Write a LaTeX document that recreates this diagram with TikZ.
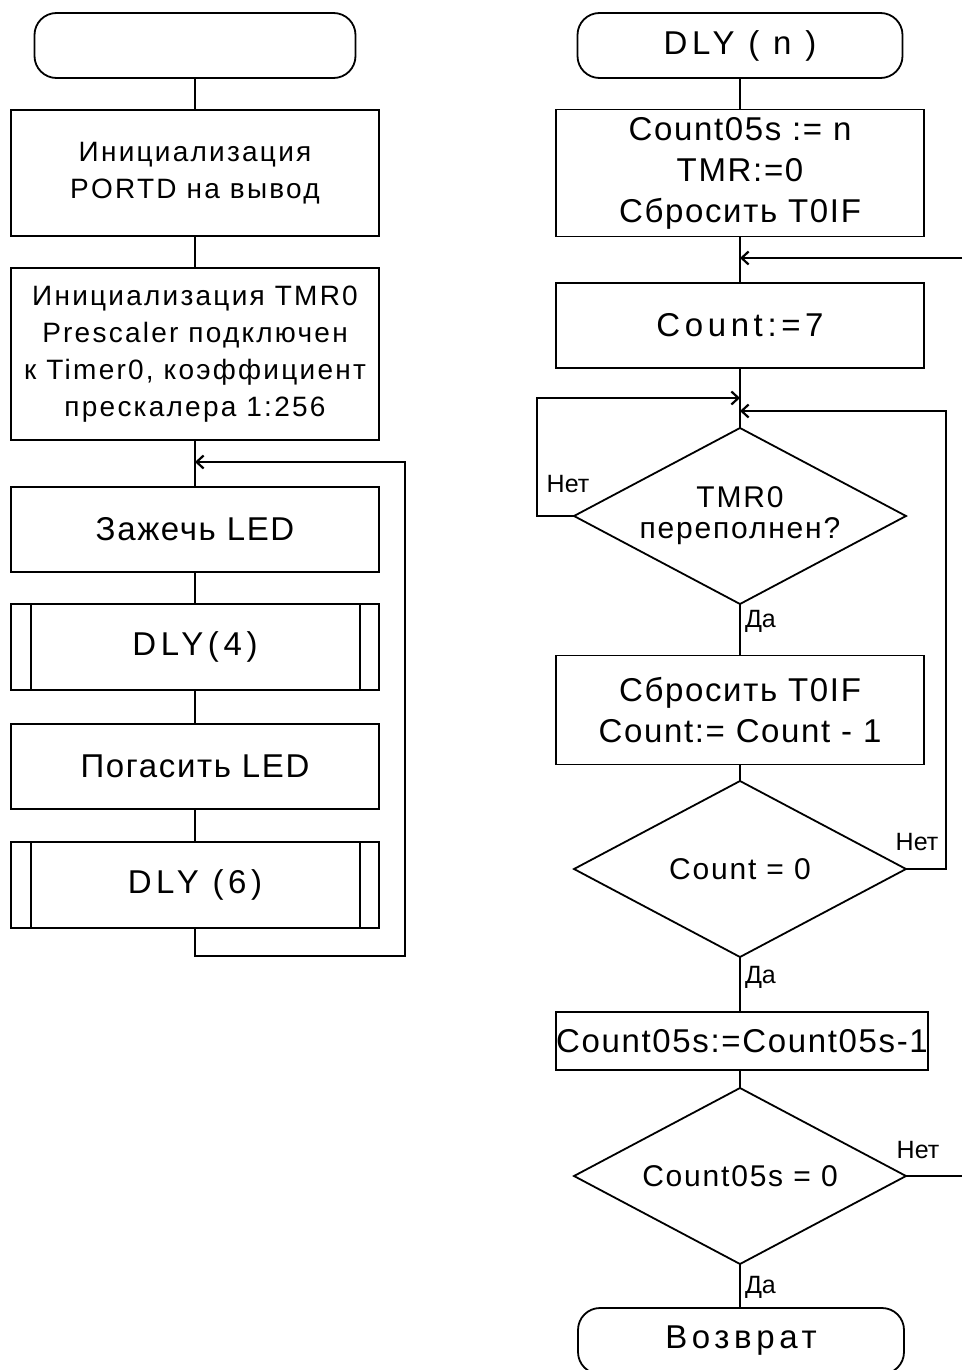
\documentclass[tikz,border=0pt]{standalone}
\usepackage{fontspec}
\setmainfont{Liberation Sans}
\usetikzlibrary{shapes.geometric,arrows.meta}

\tikzset{
  every node/.style={inner sep=0pt, outer sep=0pt},
  flow/.style={line width=1.8pt},
  txt/.style={font=\fontsize{33}{41}\selectfont\addfontfeatures{LetterSpace=5}},
  wide/.style={font=\fontsize{33}{41}\selectfont\addfontfeatures{LetterSpace=14}},
  small/.style={font=\fontsize{28}{37}\selectfont\addfontfeatures{LetterSpace=8}},
  lbl/.style={font=\fontsize{25}{30}\selectfont},
  proc/.style={draw, flow, rectangle, align=center, minimum width=368pt},
  sub/.style={proc, path picture={
      \draw[flow] ([xshift=20pt]path picture bounding box.north west) -- ([xshift=20pt]path picture bounding box.south west);
      \draw[flow] ([xshift=-19pt]path picture bounding box.north east) -- ([xshift=-19pt]path picture bounding box.south east);}},
  term/.style={draw, flow, rectangle, rounded corners=22pt, minimum height=65pt, align=center},
  dec/.style={draw, flow, diamond, aspect=1.9, align=center, minimum width=332pt, minimum height=176pt,
      font=\fontsize{30}{31}\selectfont\addfontfeatures{LetterSpace=6}},
  tip/.style={-{Straight Barb[length=7pt,width=13pt,line width=2.2pt]}}
}

\begin{document}
\begin{tikzpicture}[x=1pt,y=-1pt]
\useasboundingbox (0,0) rectangle (962,1370);
\clip (0,0) rectangle (962,1370);

% ---------- main program ----------
\node[term, minimum width=321pt] (t1) at (195,45.5) {};
\node[proc, small, minimum height=126pt] (b1) at (195,173) {Инициализация\\PORTD на вывод};
\node[proc, small, minimum height=172pt] (b2) at (195,354) {Инициализация TMR0\\Prescaler подключен\\к Timer0, коэффициент\\прескалера 1:256};
\node[proc, txt, minimum height=85pt] (b3) at (195,529.5) {Зажечь LED};
\node[sub, wide, minimum height=86pt] (b4) at (195,647) {DLY(4)};
\node[proc, txt, minimum height=85pt] (b5) at (195,766.5) {Погасить LED};
\node[sub, wide, minimum height=86pt] (b6) at (195,885) {DLY (6)};

\coordinate (j1) at (195,462);
\coordinate (l1) at (195,956);
\coordinate (l2) at (405,956);
\coordinate (l3) at (405,462);

\draw[flow] (t1.south) -- (b1.north);
\draw[flow] (b1.south) -- (b2.north);
\draw[flow] (b2.south) -- (j1) -- (b3.north);
\draw[flow] (b3.south) -- (b4.north);
\draw[flow] (b4.south) -- (b5.north);
\draw[flow] (b5.south) -- (b6.north);
\draw[flow, tip] (b6.south) -- (l1) -- (l2) -- (l3) -- (j1);

% ---------- subroutine DLY(n) ----------
\node[term, wide, minimum width=325pt] (t2) at (740,45.5) {DLY ( n )};
\node[proc, txt, minimum height=127pt] (ra) at (740,173) {Count05s := n\\TMR:=0\\Сбросить T0IF};
\node[proc, wide, minimum height=85pt] (rb) at (740,325.5) {Count:=7};
\node[dec] (d1) at (740,516) {TMR0\\переполнен?};
\node[proc, txt, minimum height=109pt] (rc) at (740,710) {Сбросить T0IF\\Count:= Count - 1};
\node[dec] (d2) at (740,869) {Count = 0};
\node[proc, txt, minimum width=371pt, minimum height=58pt] (rd) at (742,1041) {Count05s:=Count05s-1};
\node[dec] (d3) at (740,1176) {Count05s = 0};
\node[term, wide, minimum width=326pt, minimum height=66pt] (t3) at (741,1341) {Возврат};

\coordinate (j2) at (740,258);
\coordinate (j3) at (740,398);
\coordinate (j4) at (740,411);
\coordinate (e1) at (962,258);
\coordinate (e2) at (962,1176);

\draw[flow] (t2.south) -- (ra.north);
\draw[flow] (ra.south) -- (j2) -- (rb.north);
\draw[flow] (rb.south) -- (j3) -- (j4) -- (d1.north);
\draw[flow] (d1.south) -- (rc.north);
\draw[flow] (rc.south) -- (d2.north);
\draw[flow] (d2.south) -- (rd.north -| d2.south);
\draw[flow] (rd.south -| d3.north) -- (d3.north);
\draw[flow] (d3.south) -- (t3.north -| d3.south);

% loop-back connectors
\draw[flow, tip] (e1) -- (j2);
\draw[flow, tip] (d1.west) -- (537,516) -- (537,398) -- (j3);
\draw[flow, tip] (d2.east) -- (946,869) -- (946,411) -- (j4);
\draw[flow] (d3.east) -- (e2);

% branch labels
\node[lbl] (n1) at (568,484) {Нет};
\node[lbl, anchor=west] (y1) at (745,621) {Да};
\node[lbl] (n2) at (917,842) {Нет};
\node[lbl, anchor=west] (y2) at (745,977) {Да};
\node[lbl] (n3) at (918,1150) {Нет};
\node[lbl, anchor=west] (y3) at (745,1287) {Да};
\end{tikzpicture}
\end{document}
